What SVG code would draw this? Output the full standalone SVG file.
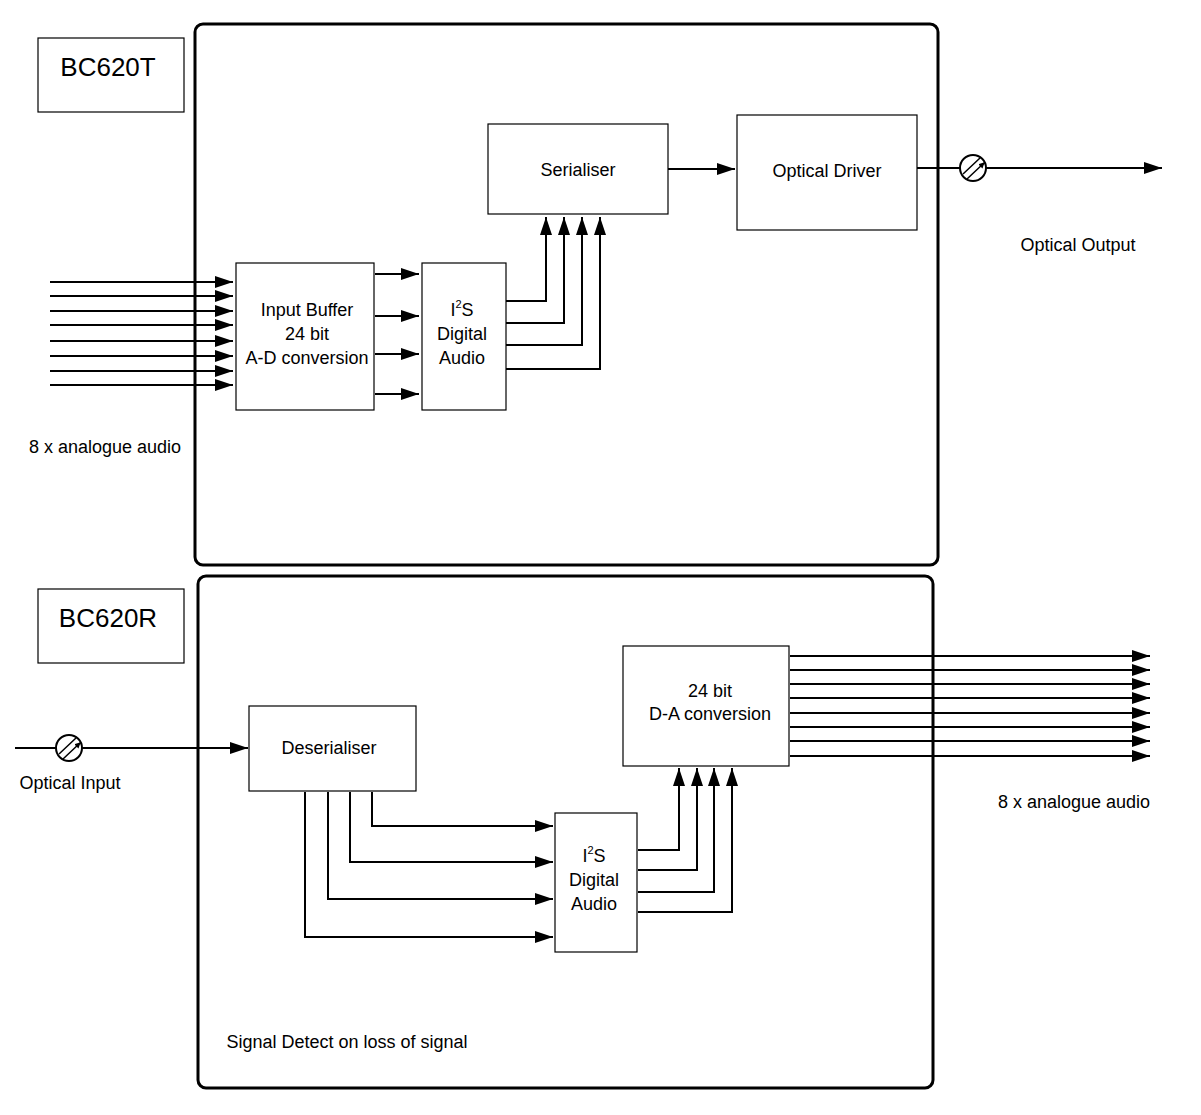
<svg xmlns="http://www.w3.org/2000/svg" width="1201" height="1115" viewBox="0 0 1201 1115">
<defs>
<marker id="a" markerWidth="10" markerHeight="8" refX="10" refY="4" orient="auto" markerUnits="userSpaceOnUse"><path d="M0,0 L18,4 L0,8z" transform="scale(0.56,1)" fill="#000"/></marker>
<marker id="b" markerWidth="18" markerHeight="12" refX="18" refY="6" orient="auto" markerUnits="userSpaceOnUse"><path d="M0,0 L18,6 L0,12z" fill="#000"/></marker>
<marker id="s" markerWidth="6" markerHeight="6" refX="5" refY="3" orient="auto" markerUnits="userSpaceOnUse"><path d="M0,0 L6,3 L0,6z" fill="#000"/></marker>
</defs>
<style>
.t{font-family:"Liberation Sans",Arial,sans-serif;font-size:18px;fill:#000;text-anchor:middle}
.big{font-size:26px}
.box{fill:#fff;stroke:#000;stroke-width:1.2}
.frame{fill:none;stroke:#000;stroke-width:3}
.c{fill:none;stroke:#000;stroke-width:2}
.c1{fill:none;stroke:#000;stroke-width:1.5}
</style>
<rect width="1201" height="1115" fill="#fff"/>
<g id="frameT"><rect class="frame" x="195" y="24" width="743" height="541" rx="8"/></g>
<g id="frameR"><rect class="frame" x="198" y="576" width="735" height="512" rx="8"/></g>
<g id="lblT"><rect class="box" x="38" y="38" width="146" height="74"/><text class="t big" x="108" y="76">BC620T</text></g>
<g id="lblR"><rect class="box" x="38" y="589" width="146" height="74"/><text class="t big" x="108" y="627">BC620R</text></g>
<g id="connectors">
<g class="c" marker-end="url(#b)">
<path d="M50,282H233"/><path d="M50,296H233"/><path d="M50,311H233"/><path d="M50,325H233"/><path d="M50,341H233"/><path d="M50,356H233"/><path d="M50,371H233"/><path d="M50,385H233"/>
<path d="M375,274H419"/><path d="M375,316H419"/><path d="M375,354H419"/><path d="M375,394H419"/>
<path d="M506,301H546V217"/><path d="M506,323H564V217"/><path d="M506,345H582V217"/><path d="M506,369H600V217"/>
<path d="M668,169H735"/>
<path d="M917,168H1162"/>
<path d="M15,748H248"/>
<path d="M372,792V826H553"/><path d="M350,792V862H553"/><path d="M328,792V899H553"/><path d="M305,792V937H553"/>
<path d="M638,850H679V768"/><path d="M638,870H697V768"/><path d="M638,892H714V768"/><path d="M638,912H732V768"/>
<path d="M790,656H1150"/><path d="M790,670H1150"/><path d="M790,684H1150"/><path d="M790,698H1150"/><path d="M790,713H1150"/><path d="M790,727H1150"/><path d="M790,741H1150"/><path d="M790,756H1150"/>
</g>
</g>
<g id="optT">
<circle cx="973" cy="168" r="13" fill="#fff" stroke="#000" stroke-width="2"/>
<path class="c1" d="M963,174L980,158M967,179L984,163" marker-end="url(#s)"/>
</g>
<g id="optR">
<circle cx="69" cy="748" r="13" fill="#fff" stroke="#000" stroke-width="2"/>
<path class="c1" d="M59,754L76,738M63,759L80,743" marker-end="url(#s)"/>
</g>
<g id="buffer"><rect class="box" x="236" y="263" width="138" height="147"/><text class="t" x="307" y="316">Input Buffer</text><text class="t" x="307" y="340">24 bit</text><text class="t" x="307" y="364">A-D conversion</text></g>
<g id="i2sT"><rect class="box" x="422" y="263" width="84" height="147"/><text class="t" x="462" y="316">I<tspan dy="-8" font-size="11">2</tspan><tspan dy="8">S</tspan></text><text class="t" x="462" y="340">Digital</text><text class="t" x="462" y="364">Audio</text></g>
<g id="serialiser"><rect class="box" x="488" y="124" width="180" height="90"/><text class="t" x="578" y="176">Serialiser</text></g>
<g id="driver"><rect class="box" x="737" y="115" width="180" height="115"/><text class="t" x="827" y="177">Optical Driver</text></g>
<g id="deser"><rect class="box" x="249" y="706" width="167" height="85"/><text class="t" x="329" y="754">Deserialiser</text></g>
<g id="i2sR"><rect class="box" x="555" y="813" width="82" height="139"/><text class="t" x="594" y="862">I<tspan dy="-8" font-size="11">2</tspan><tspan dy="8">S</tspan></text><text class="t" x="594" y="886">Digital</text><text class="t" x="594" y="910">Audio</text></g>
<g id="da"><rect class="box" x="623" y="646" width="166" height="120"/><text class="t" x="710" y="697">24 bit</text><text class="t" x="710" y="720">D-A conversion</text></g>
<g id="texts">
<text class="t" x="1078" y="251">Optical Output</text>
<text class="t" x="105" y="453">8 x analogue audio</text>
<text class="t" x="70" y="789">Optical Input</text>
<text class="t" x="1074" y="808">8 x analogue audio</text>
<text class="t" x="347" y="1048">Signal Detect on loss of signal</text>
</g>
</svg>
